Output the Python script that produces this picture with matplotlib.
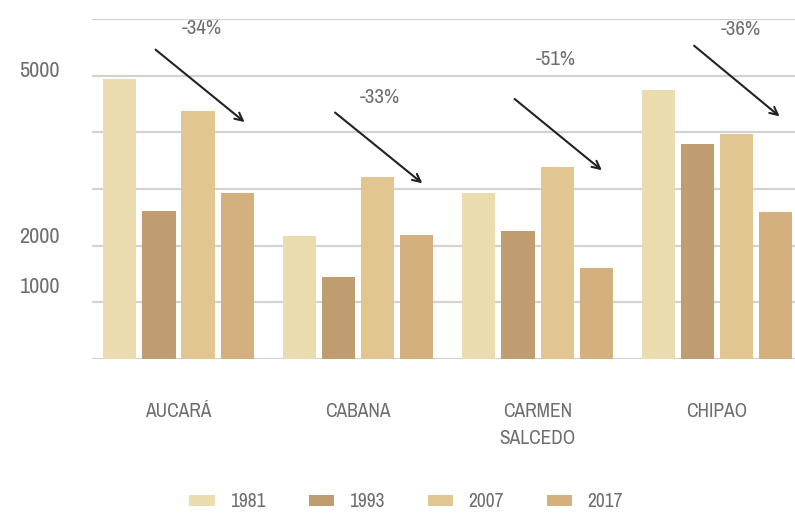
import matplotlib.pyplot as plt
import matplotlib.transforms as mtransforms
from matplotlib import font_manager
import numpy as np

# Data
districts = ["AUCARÁ", "CABANA", "CARMEN\nSALCEDO", "CHIPAO"]
years = ["1981", "1993", "2007", "2017"]
values_1981 = [4940, 2170, 2930, 4740]
values_1993 = [2610, 1450, 2260, 3790]
values_2007 = [4370, 3210, 3390, 3970]
values_2017 = [2930, 2190, 1600, 2590]
changes = ["-34%", "-33%", "-51%", "-36%"]
# arrow start / end / label position (x in group units, y in axis units)
arrow_start = [(-0.14, 5490), (0.86, 4380), (1.86, 4620), (2.86, 5560)]
arrow_end = [(0.38, 4150), (1.37, 3070), (2.37, 3300), (3.36, 4250)]
label_pos = [(0.13, 5840), (1.12, 4620), (2.10, 5280), (3.13, 5820)]

colors = ["#ebdcb0", "#c09d71", "#e2c692", "#d4b07f"]
text_color = "#6e6e6e"

# pick a narrow font if one is installed
narrow = None
stretch_ok = False
for f in font_manager.fontManager.ttflist:
    if "Narrow" in f.name or "Condensed" in f.name:
        narrow = f.name
        break
if narrow is None:
    for f in font_manager.fontManager.ttflist:
        st = f.stretch if isinstance(f.stretch, int) else 500
        if f.stretch in ("condensed", "semi-condensed", "extra-condensed") or st < 500:
            narrow = f.name
            stretch_ok = True
            break
if narrow is None:
    narrow = "DejaVu Sans"
plt.rcParams['font.family'] = [narrow, "DejaVu Sans"]
if stretch_ok:
    plt.rcParams['font.stretch'] = "condensed"

fig = plt.figure(figsize=(7.95, 5.2), dpi=100)
ax = fig.add_axes([0.1157, 0.3096, 0.8843, 0.6539])

x = np.arange(len(districts))
step = 0.218
width = 0.185
all_vals = [values_1981, values_1993, values_2007, values_2017]
for j, (yr, vals) in enumerate(zip(years, all_vals)):
    ax.bar(x + (j - 1.5) * step, vals, width, color=colors[j], label=yr, zorder=2)

for s, e, lp, txt in zip(arrow_start, arrow_end, label_pos, changes):
    ax.annotate("", xy=e, xytext=s,
                arrowprops=dict(arrowstyle="->", color="#222222", lw=1.5,
                                mutation_scale=14), zorder=3)
    ax.text(lp[0], lp[1], txt, ha="center", va="center", fontsize=15,
            color=text_color)

ax.set_xlim(-0.482, 3.434)
ax.set_ylim(0, 6000)
ax.set_yticks(range(0, 7000, 1000))
ax.set_yticklabels(["", "1000", "2000", "", "", "5000", ""])
ax.yaxis.grid(True, color="#d2d2d2", lw=1.6)
ax.set_axisbelow(True)
ax.tick_params(axis="y", length=0, pad=23, labelsize=16, labelcolor=text_color)
ax.set_xticks(x)
ax.set_xticklabels(districts)
ax.tick_params(axis="x", length=0, pad=31, labelsize=14, labelcolor=text_color)
for lbl in ax.get_xticklabels():
    lbl.set_linespacing(1.5)
for sp in ax.spines.values():
    sp.set_visible(False)

# labels sit a little above their grid lines
offsets = {"1000": 17, "2000": 11, "5000": 7}
for lbl in ax.get_yticklabels():
    dy = offsets.get(lbl.get_text(), 0)
    lbl.set_transform(lbl.get_transform() +
                      mtransforms.ScaledTranslation(0, dy / 100, fig.dpi_scale_trans))

leg = fig.legend(loc="center", bbox_to_anchor=(0.511, 0.035), ncol=4, frameon=False,
                 fontsize=14, handlelength=1.3, handleheight=0.5,
                 handletextpad=0.8, columnspacing=2.2)
for t in leg.get_texts():
    t.set_color(text_color)

fig.savefig("out.png", dpi=100)
